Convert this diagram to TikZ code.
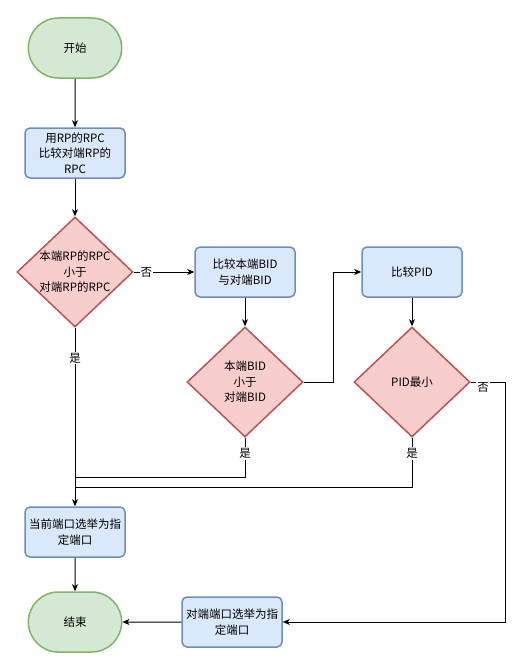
\documentclass[tikz,border=0pt]{standalone}
\usepackage{fontspec}
\newfontfamily\cjk{Noto Sans CJK SC}
\usetikzlibrary{arrows.meta, shapes.geometric, shapes.misc}
\definecolor{cblue}{HTML}{DAE8FC}
\definecolor{cbluedraw}{HTML}{6C8EBF}
\definecolor{cred}{HTML}{F8CECC}
\definecolor{creddraw}{HTML}{B85450}
\definecolor{cgreen}{HTML}{D5E8D4}
\definecolor{cgreendraw}{HTML}{82B366}
\tikzset{
  every picture/.style={font=\cjk\fontsize{11.5}{15.5}\selectfont, line width=1pt},
  proc/.style={draw=cbluedraw, fill=cblue, rounded corners=5pt, align=center, line width=1.5pt, minimum width=100pt, minimum height=50pt, inner sep=1pt},
  term/.style={rounded rectangle, draw=cgreendraw, fill=cgreen, line width=1.5pt, minimum width=100pt, minimum height=60pt},
  cond/.style={diamond, draw=creddraw, fill=cred, align=center, line width=1.5pt, minimum width=116pt, minimum height=110pt, inner sep=-6pt},
  arrow/.style={-{Stealth[length=7pt, width=6pt, inset=2pt]}},
  lbl/.style={fill=white, inner sep=1pt},
}
\begin{document}
\begin{tikzpicture}[x=1pt, y=-1pt]
  \useasboundingbox (0,0) rectangle (529,669);
  \node[term] (start) at (75,48) {开始};
  \node[proc] (rpc) at (75,153) {用RP的RPC\\比较对端RP的\\RPC};
  \node[cond] (q1) at (75,272) {本端RP的RPC\\小于\\对端RP的RPC};
  \node[proc] (bid) at (245,272) {比较本端BID\\与对端BID};
  \node[cond] (q2) at (245,382) {本端BID\\小于\\对端BID};
  \node[proc] (pid) at (412,272) {比较PID};
  \node[cond] (q3) at (412,382) {PID最小};
  \node[proc] (local) at (75,532) {当前端口选举为指\\定端口};
  \node[term] (end) at (75,622) {结束};
  \node[proc] (peer) at (232,622) {对端端口选举为指\\定端口};
  % bend points of the routed lines
  \coordinate (m1) at (75,477);
  \coordinate (m2) at (75,487);
  \coordinate (k1) at (333,272);
  \coordinate (k2) at (505,622);
  \draw[arrow] (start) -- (rpc);
  \draw[arrow] (rpc) -- (q1);
  \draw[arrow] (q1) -- node[lbl, pos=0.21] {否} (bid);
  \draw[arrow] (q1) -- node[lbl, pos=0.17] {是} (local);
  \draw[arrow] (bid) -- (q2);
  \draw (q2.south) |- node[lbl, pos=0.2] {是} (m1);
  \draw[arrow] (q2.east) -| (k1) -- (pid);
  \draw[arrow] (pid) -- (q3);
  \draw (q3.south) |- node[lbl, pos=0.16] {是} (m2);
  \draw[arrow] (q3.east) -| node[lbl, pos=0.18, yshift=-5pt] {否} (k2) -- (peer);
  \draw[arrow] (local) -- (end);
  \draw[arrow] (peer) -- (end);
\end{tikzpicture}
\end{document}
